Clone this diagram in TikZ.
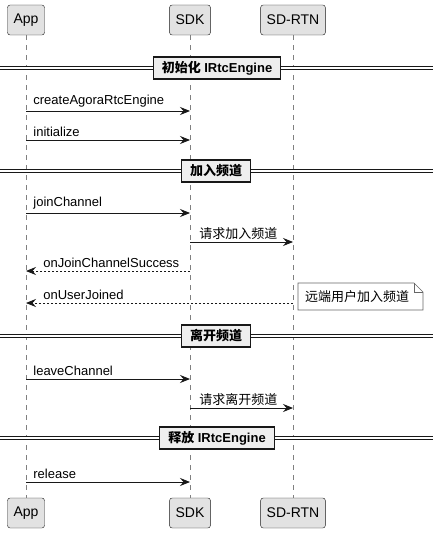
\documentclass[tikz,border=0pt]{standalone}
\usepackage{fontspec}
\setmainfont{Liberation Sans}
\newfontfamily\cjk{Noto Sans CJK SC}
\usepackage{tikz}
\usetikzlibrary{arrows.meta,positioning}
\definecolor{partfill}{HTML}{E2E2E2}
\definecolor{divfill}{HTML}{EEEEEE}
\definecolor{ink}{HTML}{181818}

\begin{document}
\begin{tikzpicture}[x=1pt,y=-1pt,
	part/.style={draw=ink, fill=partfill, rounded corners=2.5pt, minimum height=30pt, inner xsep=6pt, font=\fontsize{14}{16}\selectfont},
	life/.style={draw=black!50, line width=0.5pt, dash pattern=on 5pt off 5pt},
	msg/.style={draw=ink, line width=0.8pt, -{Stealth[length=10pt,width=8pt,inset=3.5pt]}},
	reply/.style={msg, dash pattern=on 2pt off 2pt},
	lbl/.style={anchor=south west, inner sep=0pt, font=\fontsize{13}{15}\selectfont},
	divbox/.style={draw=ink, fill=divfill, line width=1.4pt, minimum height=22pt, inner xsep=8.5pt, font=\bfseries\fontsize{13}{15}\selectfont},
	divline/.style={draw=ink, double, double distance=2pt, line width=0.7pt}]
	\useasboundingbox (0,0) rectangle (439,534);
	% participants
	\node[part] (appT) at (26,20) {App};
	\node[part] (sdkT) at (190,20) {SDK};
	\node[part] (rtnT) at (293,20) {SD-RTN};
	\node[part] (appB) at (26,513) {App};
	\node[part] (sdkB) at (190,513) {SDK};
	\node[part] (rtnB) at (293,513) {SD-RTN};
	\draw[life] (appT) -- (appB);
	\draw[life] (sdkT) -- (sdkB);
	\draw[life] (rtnT) -- (rtnB);
	
	% 初始化
	\coordinate (d1L) at (0,68);
	\coordinate (d1R) at (433,68);
	\draw[divline] (d1L) -- (d1R);
	\node[divbox] (d1) at (217,68) {{\cjk 初始化} IRtcEngine};
	
	\draw[msg] (appT |- 0,111) -- node[lbl, at start, xshift=7pt, yshift=3pt] {createAgoraRtcEngine} (sdkT |- 0,111);
	\draw[msg] (appT |- 0,140) -- node[lbl, at start, xshift=7pt, yshift=3pt] {initialize} (sdkT |- 0,140);
	
	% 加入频道
	\coordinate (d2L) at (0,171);
	\coordinate (d2R) at (433,171);
	\draw[divline] (d2L) -- (d2R);
	\node[divbox] (d2) at (216,171) {\cjk 加入频道};
	
	\draw[msg] (appT |- 0,213) -- node[lbl, at start, xshift=7pt, yshift=3pt] {joinChannel} (sdkT |- 0,213);
	\draw[msg] (sdkT |- 0,242) -- node[lbl, at start, xshift=9pt, yshift=2pt] {\cjk 请求加入频道} (rtnT |- 0,242);
	\draw[reply] (sdkT |- 0,271) -- node[lbl, at end, xshift=17pt, yshift=3pt] {onJoinChannelSuccess} (appT |- 0,271);
	\draw[reply] (rtnT |- 0,303) -- node[lbl, at end, xshift=17pt, yshift=3pt] {onUserJoined} (appT |- 0,303);
	
	% note
	\coordinate (n1) at (298,283);
	\coordinate (n2) at (414,283);
	\coordinate (n3) at (423,292);
	\coordinate (n4) at (423,310);
	\coordinate (n5) at (298,310);
	\draw[draw=black!60, fill=white, line width=0.6pt] (n1) -- (n2) -- (n3) -- (n4) -- (n5) -- cycle;
	\draw[draw=black!60, line width=0.6pt] (n2) -- (n2 |- n3) -- (n3);
	\node[anchor=west, inner sep=0pt, font=\fontsize{13}{15}\selectfont] (note) at (305,297) {\cjk 远端用户加入频道};
	
	% 离开频道
	\coordinate (d3L) at (0,336);
	\coordinate (d3R) at (433,336);
	\draw[divline] (d3L) -- (d3R);
	\node[divbox] (d3) at (216,336) {\cjk 离开频道};
	
	\draw[msg] (appT |- 0,379) -- node[lbl, at start, xshift=7pt, yshift=3pt] {leaveChannel} (sdkT |- 0,379);
	\draw[msg] (sdkT |- 0,408) -- node[lbl, at start, xshift=9pt, yshift=2pt] {\cjk 请求离开频道} (rtnT |- 0,408);
	
	% 释放
	\coordinate (d4L) at (0,438);
	\coordinate (d4R) at (433,438);
	\draw[divline] (d4L) -- (d4R);
	\node[divbox] (d4) at (217,438) {{\cjk 释放} IRtcEngine};
	
	\draw[msg] (appT |- 0,482) -- node[lbl, at start, xshift=7pt, yshift=3pt] {release} (sdkT |- 0,482);
\end{tikzpicture}
\end{document}
